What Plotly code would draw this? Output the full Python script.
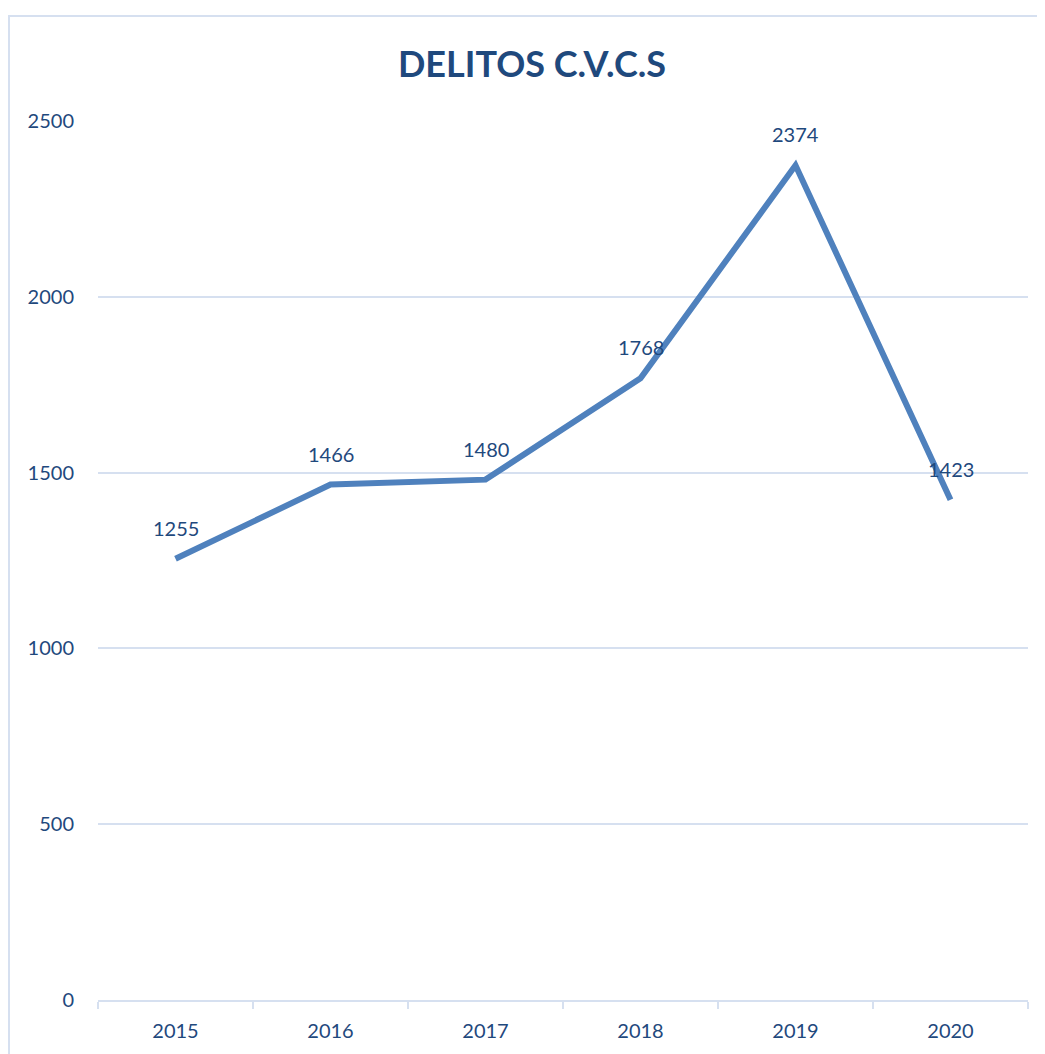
import plotly.graph_objects as go

years = ["2015", "2016", "2017", "2018", "2019", "2020"]
delitos = [1255, 1466, 1480, 1768, 2374, 1423]
y_ticks = [0, 500, 1000, 1500, 2000, 2500]

TEXT = "#1F497D"
GRID = "#D6E0F0"
LINE = "#4F81BD"
FONT = "Lato"

fig = go.Figure()
fig.add_trace(go.Scatter(
    x=years, y=delitos, mode="lines",
    line=dict(color=LINE, width=6),
    hoverinfo="x+y", showlegend=False,
))

# data labels above each point (category index, not the year string)
for i, v in enumerate(delitos):
    fig.add_annotation(x=i, y=v, text=str(v), showarrow=False,
                       yshift=31, font=dict(family=FONT, size=20, color=TEXT))

# chart area outline (partially cropped like the original)
fig.add_shape(type="rect", xref="paper", yref="paper",
              x0=-0.0957, x1=1.2, y0=-0.3, y1=1.1195,
              line=dict(color=GRID, width=2), layer="below")

# page body has an 8px margin, so everything is shifted by -8 here
fig.update_layout(
    width=1045, height=1054,
    margin=dict(l=90, r=25, t=113, b=62, autoexpand=False),
    paper_bgcolor="white", plot_bgcolor="white",
    font=dict(family=FONT, size=20, color=TEXT),
    title=dict(text="<b>DELITOS C.V.C.S</b>", x=524 / 1045, xanchor="center",
               y=1 - 56 / 1054, yanchor="middle",
               font=dict(family=FONT, size=36, color=TEXT)),
    xaxis=dict(
        type="category", range=[-0.5, 5.5],
        showline=True, linecolor=GRID, linewidth=2,
        ticks="outside", tickson="boundaries", ticklen=7,
        tickcolor=GRID, tickwidth=2,
        showgrid=False, zeroline=False,
        tickfont=dict(family=FONT, size=20, color=TEXT),
        ticklabelstandoff=12,
    ),
    yaxis=dict(
        range=[0, 2500], tickvals=y_ticks,
        showgrid=True, gridcolor=GRID, gridwidth=2,
        zeroline=False, showline=False, ticks="",
        tickfont=dict(family=FONT, size=20, color=TEXT),
        ticklabelstandoff=23,
    ),
)

fig.write_html("out.html")
